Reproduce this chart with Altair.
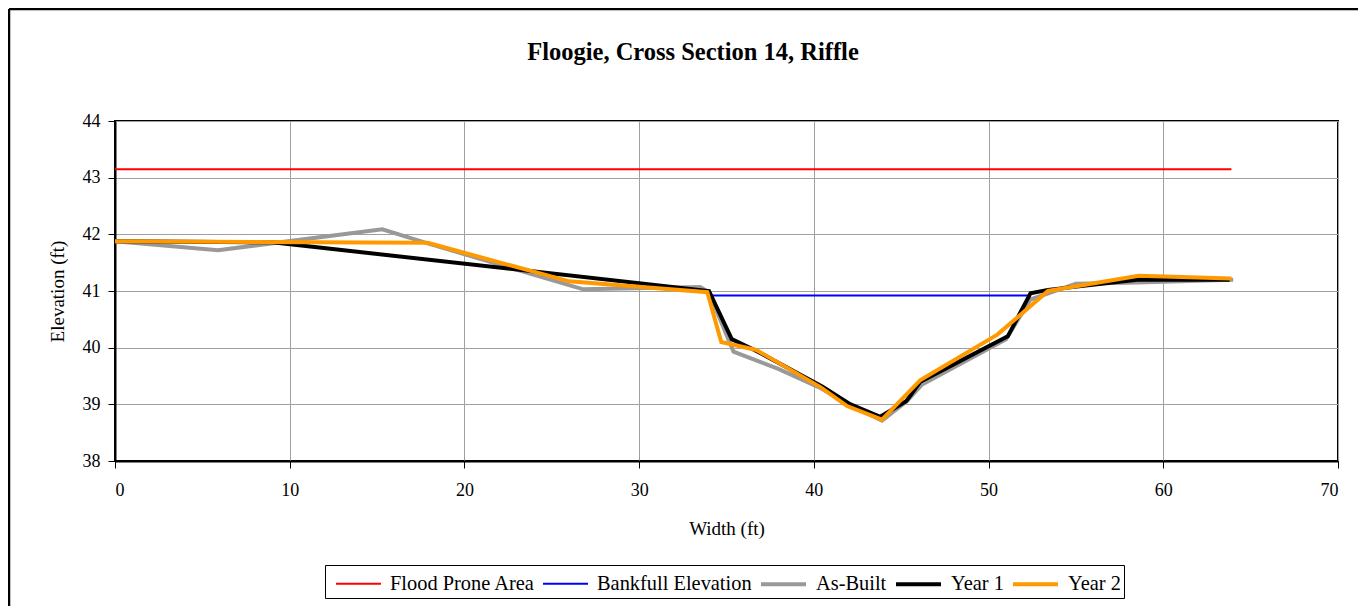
import altair as alt
import pandas as pd

series_names = ["Flood Prone Area", "Bankfull Elevation", "As-Built", "Year 1", "Year 2"]
series_colors = ["#FF0000", "#0000FF", "#999999", "#000000", "#FF9900"]
series_widths = [2, 2, 4, 4, 4]

flood_x = [0, 63.9]
flood_y = [43.15, 43.15]

bankfull_x = [33.9, 52.4]
bankfull_y = [40.92, 40.92]

asbuilt_x = [0, 5.9, 15.3, 17.9, 26.8, 33.5, 34.0, 35.4, 38.0, 40.3, 42.0, 43.9, 45.3, 46.2, 51.0, 52.4, 55.0, 58.5, 64.0]
asbuilt_y = [41.88, 41.72, 42.09, 41.84, 41.03, 41.07, 40.97, 39.93, 39.62, 39.3, 39.0, 38.71, 39.05, 39.35, 40.15, 40.85, 41.13, 41.15, 41.2]

year1_x = [0, 9.0, 34.0, 35.3, 36.6, 40.5, 42.1, 43.8, 45.3, 46.1, 51.1, 52.4, 53.4, 58.5, 63.8]
year1_y = [41.88, 41.86, 41.0, 40.15, 39.96, 39.31, 39.0, 38.78, 39.06, 39.4, 40.2, 40.96, 41.02, 41.2, 41.2]

year2_x = [0, 17.9, 26.0, 33.9, 34.7, 36.7, 40.4, 41.9, 43.9, 46.1, 50.5, 53.4, 58.6, 63.9]
year2_y = [41.88, 41.85, 41.17, 40.98, 40.1, 39.96, 39.3, 38.97, 38.73, 39.43, 40.23, 41.0, 41.27, 41.22]

x_ticks = [0, 10, 20, 30, 40, 50, 60, 70]
y_ticks = [38, 39, 40, 41, 42, 43, 44]

title_text = "Floogie, Cross Section 14, Riffle"

FONT = "Liberation Serif"
W, H = 1223, 340
PAD = {"left": 107, "top": 113, "right": 20, "bottom": 145}

def frame(name, xs, ys):
    return pd.DataFrame({"series": name, "x": xs, "y": ys, "i": list(range(len(xs)))})

all_series = [
    frame(series_names[0], flood_x, flood_y),
    frame(series_names[1], bankfull_x, bankfull_y),
    frame(series_names[2], asbuilt_x, asbuilt_y),
    frame(series_names[3], year1_x, year1_y),
    frame(series_names[4], year2_x, year2_y),
]

xscale = alt.Scale(domain=[0, 70], nice=False)
yscale = alt.Scale(domain=[38, 44], nice=False)
cscale = alt.Scale(domain=series_names, range=series_colors)
wscale = alt.Scale(type="ordinal", domain=series_names, range=series_widths)

# long horizontal line symbol (path extends beyond the unit box so the row stays short)
legend = alt.Legend(
    title=None, orient="none", legendX=210, legendY=444, direction="horizontal",
    strokeColor="black", padding=3, symbolType="M-0.5,0H2.714", symbolSize=784,
    labelFont=FONT, labelFontSize=20.4, labelColor="black", labelLimit=0,
    columnPadding=0, labelOffset=32, fillColor="white", offset=0,
)

layers = []
for df in all_series:
    layers.append(
        alt.Chart(df).mark_line(strokeCap="butt", strokeJoin="miter").encode(
            x=alt.X("x:Q", scale=xscale,
                    axis=alt.Axis(title="Width (ft)", values=x_ticks, format="d")),
            y=alt.Y("y:Q", scale=yscale,
                    axis=alt.Axis(title="Elevation (ft)", values=y_ticks, format="d")),
            color=alt.Color("series:N", scale=cscale, legend=legend),
            strokeWidth=alt.StrokeWidth("series:N", scale=wscale, legend=legend),
            order="i:Q",
        )
    )

dummy = pd.DataFrame({"a": [0]})
left_border = alt.Chart(dummy).mark_rule(color="black", strokeWidth=2.5).encode(
    x=alt.value(-106), y=alt.value(-112), y2=alt.value(H + PAD["bottom"]))
top_border = alt.Chart(dummy).mark_rule(color="black", strokeWidth=2.5).encode(
    x=alt.value(-106), x2=alt.value(W + PAD["right"]), y=alt.value(-112))
title_mark = alt.Chart(dummy).mark_text(
    font=FONT, fontSize=24.5, fontWeight="bold", color="black",
    align="center", baseline="alphabetic",
).encode(x=alt.value(578), y=alt.value(-61), text=alt.value(title_text))

chart = alt.layer(*layers, left_border, top_border, title_mark).properties(
    width=W, height=H,
    padding=PAD,
    autosize=alt.AutoSizeParams(type="none"),
).configure_view(
    stroke="black", strokeWidth=2
).configure_axis(
    labelFont=FONT, labelFontSize=18, labelColor="black",
    titleFont=FONT, titleFontSize=19, titleColor="black", titleFontWeight="normal",
    grid=True, gridColor="#a0a0a0", gridWidth=1,
    domainColor="black", domainWidth=2, tickColor="black", tickSize=7,
).configure_axisX(
    labelPadding=13, titlePadding=20,
).configure_axisY(
    labelPadding=8, titlePadding=15,
)

chart.save("out.html", embed_options={"renderer": "svg", "actions": False})
